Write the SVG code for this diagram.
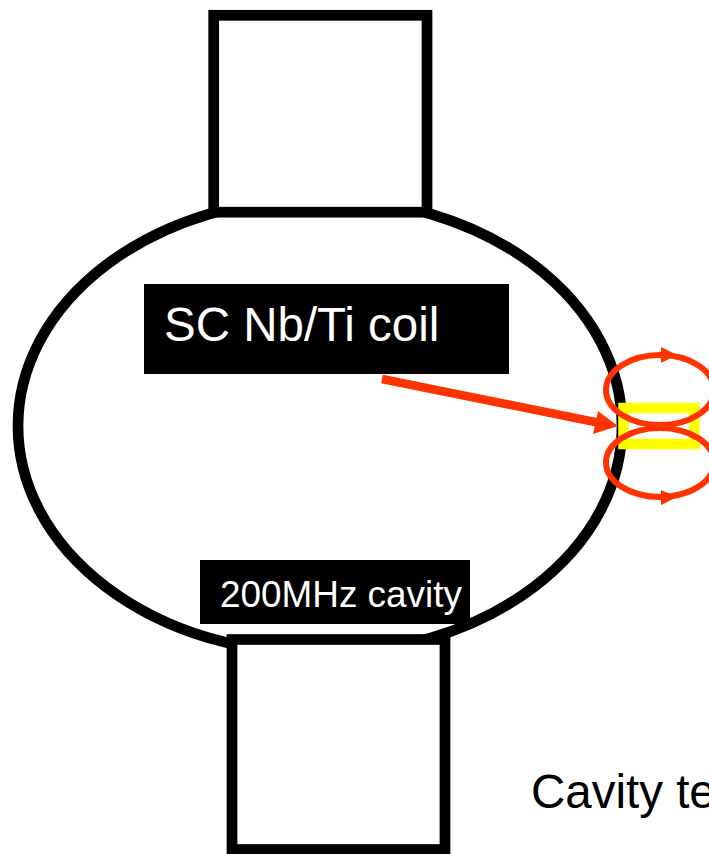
<svg xmlns="http://www.w3.org/2000/svg" width="709" height="854" viewBox="0 0 709 854">
<style>
.box{fill:#fff;stroke:#000;stroke-width:10.7}
.label{fill:#000}
text{font-family:"Liberation Sans",Arial,sans-serif}
.loop{fill:none;stroke:#ff3300;stroke-width:6}
.red{fill:#ff3300}
</style>
<rect width="709" height="854" fill="#fff"/>
<g id="cavity"><ellipse cx="320" cy="426" rx="302" ry="228" fill="#fff" stroke="#000" stroke-width="10.7"/></g>
<g id="top-port"><rect class="box" x="213.7" y="15.3" width="213.3" height="196.9"/></g>
<g id="bottom-port"><rect class="box" x="232" y="639.5" width="213" height="210"/></g>
<g id="coil-label"><rect class="label" x="144" y="284" width="365" height="90"/><text x="164" y="341" font-size="47.5" fill="#fff">SC Nb/Ti coil</text></g>
<g id="cavity-label"><rect class="label" x="200" y="560" width="270" height="64"/><text x="220" y="607" font-size="36.9" fill="#fff">200MHz cavity</text></g>
<g id="coil"><rect x="623.5" y="408" width="71" height="36" fill="none" stroke="#ffff00" stroke-width="10.5"/></g>
<g id="connectors">
<ellipse class="loop" cx="660" cy="390" rx="54" ry="35"/>
<ellipse class="loop" cx="660" cy="462.5" rx="54" ry="34.5"/>
<polygon class="red" points="661,347 661,363 677,355"/>
<polygon class="red" points="661,490 661,505 677,497"/>
<line x1="382" y1="379" x2="600" y2="423" stroke="#ff3300" stroke-width="8.5"/>
<polygon class="red" points="598,411 593,434 618,426"/>
</g>
<g id="caption"><text x="531" y="808" font-size="47.5" fill="#000">Cavity te</text></g>
</svg>
